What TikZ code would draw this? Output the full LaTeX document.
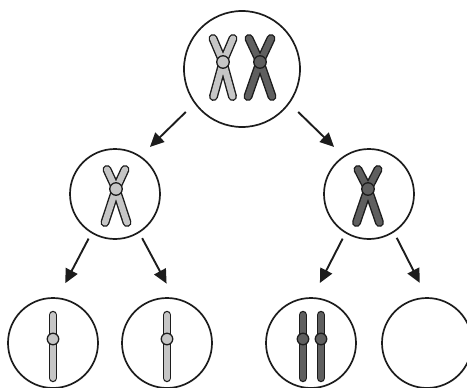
\documentclass[tikz,border=0pt]{standalone}
\usetikzlibrary{arrows.meta}
\definecolor{chromlight}{HTML}{C6C6C6}
\definecolor{chromdark}{HTML}{5F5F5F}
\definecolor{outl}{HTML}{1C1C1C}
\begin{document}
\begin{tikzpicture}[x=1pt,y=-1pt,
    cell/.style={circle,draw=outl,line width=1.7pt,minimum size=90pt,inner sep=0pt},
    arr/.style={draw=outl,line width=1.9pt,-{Triangle[length=14pt,width=13pt]}},
    armout/.style={draw=outl,line width=9pt,line cap=round,line join=round},
    armin/.style={draw=#1,line width=6.2pt,line cap=round,line join=round},
    centro/.style={circle,draw=outl,fill=#1,line width=1.3pt,minimum size=12.5pt,inner sep=0pt}]
    \useasboundingbox (0,0) rectangle (467,388);
    % cells
    \node[cell,minimum size=116pt] (top) at (242,69) {};
    \node[cell] (ml) at (115,194) {};
    \node[cell] (mr) at (369,194) {};
    \node[cell] (bl1) at (53,343) {};
    \node[cell] (bl2) at (167,343) {};
    \node[cell] (br1) at (311,343) {};
    \node[cell] (br2) at (427,343) {};
    % divisions
    \draw[arr,shorten <=12pt,shorten >=13pt] (top.216) -- (ml.56);
    \draw[arr,shorten <=12pt,shorten >=13pt] (top.324) -- (mr.124);
    \draw[arr,shorten <=6pt,shorten >=16pt] (ml.239) -- (bl1.84);
    \draw[arr,shorten <=6pt,shorten >=16pt] (ml.302) -- (bl2.81);
    \draw[arr,shorten <=6pt,shorten >=16pt] (mr.239) -- (br1.88);
    \draw[arr,shorten <=6pt,shorten >=16pt] (mr.303) -- (br2.90);
    % paired chromatids
    \foreach \cx/\cy/\a/\u/\b/\d/\col [count=\i] in {223/62/10/23.5/9.5/34.5/chromlight,
        260/62/11/23.5/12/34.5/chromdark, 116/189/9/19.5/11/33.5/chromlight,
        368/189/10/19.5/11.5/33.5/chromdark} {
      \draw[armout] (\cx-\a,\cy-\u) -- (\cx,\cy) -- (\cx+\b,\cy+\d)
                    (\cx+\a,\cy-\u) -- (\cx,\cy) -- (\cx-\b,\cy+\d);
      \draw[armin=\col] (\cx-\a,\cy-\u) -- (\cx,\cy) -- (\cx+\b,\cy+\d)
                        (\cx+\a,\cy-\u) -- (\cx,\cy) -- (\cx-\b,\cy+\d);
      \node[centro=\col] (x\i) at (\cx,\cy) {};
    }
    % single chromatids
    \foreach \x/\col [count=\i] in {53/chromlight, 167/chromlight, 303/chromdark, 321/chromdark} {
      \draw[armout,line width=8.5pt] (\x,315) -- (\x,378);
      \draw[armin=\col,line width=5.8pt] (\x,315) -- (\x,378);
      \node[centro=\col,minimum size=11.5pt] (s\i) at (\x,339) {};
    }
\end{tikzpicture}
\end{document}
